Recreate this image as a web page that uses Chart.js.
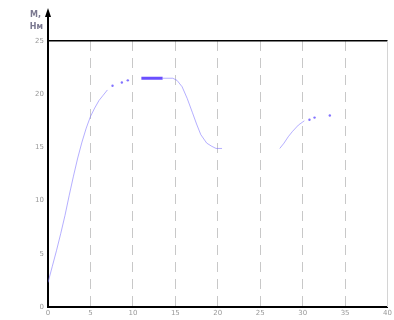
<!DOCTYPE html>
<html>
<head>
<meta charset="utf-8">
<script src="https://cdn.jsdelivr.net/npm/chart.js@4"></script>
<style>
  html, body { margin: 0; padding: 0; background: #fff; }
  #wrap { width: 394px; height: 320px; }
</style>
</head>
<body>
<div id="wrap"><canvas id="torqueChart"></canvas></div>
<script>
// tick labels
const xTicks = [0, 5, 10, 15, 20, 25, 30, 35, 40];
const yTicks = [0, 5, 10, 15, 20, 25];

// curve pieces (x, M)
const riseX = [0, 0.5, 1, 1.5, 2, 2.5, 3, 3.5, 4, 4.5, 5, 5.5, 6, 6.5, 7];
const riseY = [2.3, 3.8, 5.3, 6.9, 8.6, 10.5, 12.3, 14.0, 15.5, 16.8, 17.9, 18.7, 19.4, 19.9, 20.4];
const plateauX = [11, 13.5];
const plateauY = [21.5, 21.5];
const fallX = [13.5, 14.7, 15.2, 15.8, 16.4, 17, 17.5, 18, 18.7, 19.3, 19.8, 20.5];
const fallY = [21.5, 21.5, 21.3, 20.7, 19.6, 18.3, 17.2, 16.2, 15.4, 15.1, 14.9, 14.9];
const secondX = [27.3, 27.8, 28.3, 28.8, 29.5, 30.2];
const secondY = [14.9, 15.4, 16.0, 16.5, 17.1, 17.5];
const dotsX = [7.6, 8.7, 9.4, 30.8, 31.4, 33.2];
const dotsY = [20.8, 21.1, 21.3, 17.6, 17.8, 18.0];

const pts = (xs, ys) => xs.map((x, i) => ({ x: x, y: ys[i] }));
const lineColor = "rgba(120,110,255,0.55)";

const axisDecor = {
    id: "axisDecor",
    beforeDatasetsDraw(chart) {
        // light right edge at the last x tick
        const ctx = chart.ctx;
        const a = chart.chartArea;
        const xr = Math.round(chart.scales.x.getPixelForValue(xTicks[xTicks.length - 1])) - 0.5;
        ctx.save();
        ctx.strokeStyle = "#d4d4d4";
        ctx.lineWidth = 1;
        ctx.beginPath();
        ctx.moveTo(xr, a.top);
        ctx.lineTo(xr, a.bottom);
        ctx.stroke();
        ctx.restore();
    },
    afterDraw(chart) {
        const ctx = chart.ctx;
        const a = chart.chartArea;
        ctx.save();
        ctx.strokeStyle = "#000";
        ctx.fillStyle = "#000";
        ctx.lineWidth = 2;
        ctx.beginPath();
        ctx.moveTo(a.left, a.top);
        ctx.lineTo(a.left, 12);
        ctx.stroke();
        ctx.beginPath();
        ctx.moveTo(a.left, 8);
        ctx.lineTo(a.left - 3, 17);
        ctx.lineTo(a.left + 3, 17);
        ctx.closePath();
        ctx.fill();
        ctx.fillStyle = "#7a7890";
        ctx.font = "bold 8px 'DejaVu Sans'";
        ctx.textAlign = "right";
        ctx.textBaseline = "middle";
        ctx.fillText("M,", a.left - 7, 15);
        ctx.fillText("Нм", a.left - 5, 27);
        ctx.restore();
    }
};

new Chart(document.getElementById("torqueChart"), {
    type: "line",
    data: {
        datasets: [
            { data: pts(riseX, riseY), borderColor: lineColor, borderWidth: 1, pointRadius: 0 },
            { data: pts(plateauX, plateauY), borderColor: "rgba(90,60,255,0.9)", borderWidth: 3, pointRadius: 0 },
            { data: pts(fallX, fallY), borderColor: lineColor, borderWidth: 1, pointRadius: 0 },
            { data: pts(secondX, secondY), borderColor: lineColor, borderWidth: 1, pointRadius: 0 },
            { data: pts(dotsX, dotsY), showLine: false, pointRadius: 1.2, pointBorderWidth: 0,
              pointBackgroundColor: "rgba(100,80,255,0.8)" }
        ]
    },
    options: {
        responsive: true,
        maintainAspectRatio: false,
        animation: false,
        layout: { padding: { top: 41, right: 6, left: 0, bottom: 0 } },
        plugins: { legend: { display: false }, tooltip: { enabled: false } },
        scales: {
            x: {
                type: "linear",
                min: 0, max: 40,
                afterFit: s => { s.height = 13; },
                afterBuildTicks: s => { s.ticks = xTicks.map(v => ({ value: v })); },
                ticks: { color: "#999", font: { size: 7, family: "'DejaVu Sans'" }, padding: 2, maxRotation: 0 },
                grid: {
                    drawTicks: false,
                    color: c => {
                        if (!c.tick || c.tick.value === 0 || c.tick.value === 40) return "rgba(0,0,0,0)";
                        return "#c8c8c8";
                    },
                    lineWidth: 1
                },
                border: { color: "#000", width: 2, dash: [10, 7] }
            },
            y: {
                min: 0, max: 25,
                afterFit: s => { s.width = 48; },
                afterBuildTicks: s => { s.ticks = yTicks.map(v => ({ value: v })); },
                ticks: { color: "#999", font: { size: 7, family: "'DejaVu Sans'" }, padding: 4 },
                grid: {
                    drawTicks: false,
                    color: c => c.tick && c.tick.value === 25 ? "#000" : "rgba(0,0,0,0)",
                    lineWidth: c => c.tick && c.tick.value === 25 ? 1.5 : 0
                },
                border: { color: "#000", width: 2 }
            }
        }
    },
    plugins: [axisDecor]
});
</script>
</body>
</html>
